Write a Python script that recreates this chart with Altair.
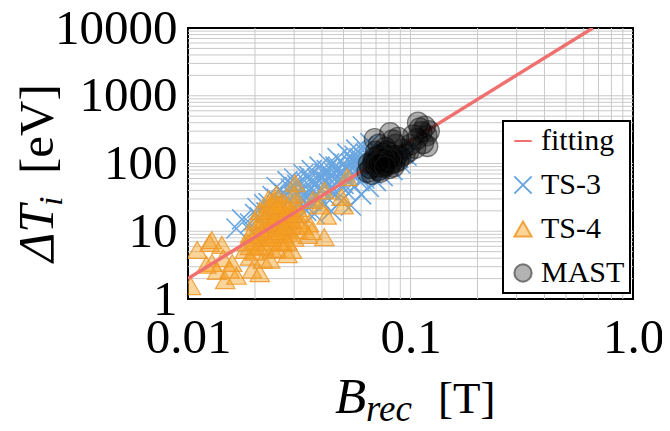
import altair as alt
import pandas as pd

SERIF = "Liberation Serif"

# ---------------- data ----------------
series_names = ["fitting", "TS-3", "TS-4", "MAST"]

fit_B = [0.01, 0.66]
fit_T = [2.0, 10000.0]

ts3_B = [0.0165, 0.0175, 0.019, 0.0195, 0.0205, 0.021, 0.022, 0.0225, 0.023, 0.024,
         0.0245, 0.025, 0.025, 0.026, 0.026, 0.027, 0.027, 0.028, 0.028, 0.029,
         0.029, 0.030, 0.030, 0.031, 0.031, 0.032, 0.032, 0.033, 0.033, 0.034,
         0.034, 0.035, 0.035, 0.036, 0.036, 0.037, 0.037, 0.038, 0.038, 0.039,
         0.040, 0.040, 0.041, 0.042, 0.042, 0.043, 0.044, 0.044, 0.045, 0.046,
         0.046, 0.047, 0.048, 0.048, 0.049, 0.050, 0.050, 0.051, 0.052, 0.053,
         0.053, 0.054, 0.055, 0.056, 0.056, 0.057, 0.058, 0.059, 0.060, 0.060,
         0.061, 0.062, 0.063, 0.064, 0.065, 0.065, 0.066, 0.067, 0.068, 0.069,
         0.070, 0.071, 0.072, 0.074, 0.075, 0.077, 0.079, 0.081, 0.083, 0.085,
         0.088, 0.090, 0.093, 0.096,
         0.020, 0.022, 0.024, 0.026, 0.028, 0.030, 0.032, 0.034, 0.036, 0.038,
         0.040, 0.042, 0.044, 0.046, 0.048, 0.050, 0.052, 0.054, 0.056, 0.058,
         0.060, 0.062, 0.064, 0.066, 0.068, 0.023, 0.027, 0.031, 0.035, 0.039,
         0.043, 0.047, 0.051, 0.055, 0.059, 0.063, 0.067, 0.071, 0.073, 0.076]
ts3_T = [11, 15, 13, 9.5, 22, 16, 12, 19, 26, 21,
         14, 30, 45, 24, 17, 36, 12, 55, 28, 20,
         42, 33, 60, 16, 48, 38, 25, 70, 30, 52,
         20, 40, 65, 28, 80, 48, 18, 35, 60, 90,
         42, 25, 70, 55, 32, 100, 45, 20, 75, 60,
         35, 120, 50, 85, 28, 65, 100, 40, 140, 75,
         55, 24, 110, 90, 45, 160, 70, 120, 35, 95,
         180, 60, 140, 80, 110, 45, 200, 70, 130, 95,
         55, 160, 85, 120, 65, 140, 95, 110, 80, 150,
         120, 100, 140, 130,
         18, 25, 33, 40, 22, 45, 30, 38, 55, 45,
         60, 80, 65, 90, 70, 50, 85, 100, 130, 100,
         75, 120, 150, 90, 110, 15, 25, 35, 28, 30,
         40, 80, 90, 70, 55, 100, 150, 120, 140, 100]

ts4_B = [0.0103, 0.011, 0.0125, 0.0128, 0.0128, 0.0142, 0.0144, 0.0135, 0.0147, 0.0154,
         0.0158, 0.0121, 0.0165, 0.018, 0.0184, 0.019, 0.0194, 0.020, 0.021, 0.0217,
         0.0226, 0.0234, 0.0246, 0.025, 0.026, 0.024, 0.0234, 0.021, 0.028, 0.0282,
         0.0268, 0.0303, 0.0303, 0.031, 0.0312, 0.0293, 0.0346, 0.035, 0.0365, 0.039,
         0.041, 0.041, 0.042, 0.049, 0.050, 0.052, 0.022, 0.024, 0.026, 0.027,
         0.023, 0.025, 0.028, 0.029, 0.030, 0.024, 0.022, 0.027, 0.026, 0.032,
         0.033, 0.020, 0.021, 0.019, 0.025, 0.028, 0.036, 0.023, 0.025, 0.027,
         0.021, 0.023, 0.024, 0.026, 0.022, 0.029, 0.031, 0.020, 0.027, 0.025,
         0.021, 0.022, 0.023, 0.024, 0.025, 0.026, 0.027, 0.028, 0.029, 0.030,
         0.022, 0.024, 0.026, 0.028, 0.023, 0.025, 0.027, 0.020, 0.019, 0.030]
ts4_T = [1.55, 5.3, 6.7, 7.4, 3.4, 6.3, 4.0, 2.6, 1.9, 2.7,
         3.4, 3.2, 2.2, 5.3, 6.9, 4.2, 2.7, 9.7, 5.9, 3.8,
         8.2, 13, 29, 19, 11.6, 5.3, 3.8, 2.4, 16, 9.4,
         6.7, 51, 26, 14.6, 10.4, 5.3, 8.8, 13, 29, 24,
         40, 8.2, 17, 32, 24, 63, 12, 16, 22, 14,
         7, 9, 11, 20, 8, 24, 18, 27, 7, 18,
         12, 14, 8, 6, 5.5, 4.6, 10, 10, 13, 19,
         20, 25, 11, 15, 9, 12, 22, 7, 9, 35,
         11, 15, 20, 13, 17, 25, 16, 22, 15, 18,
         6, 8, 10, 7, 30, 24, 12, 5, 9, 35]

mast_B = [0.066, 0.068, 0.069, 0.070, 0.071, 0.072, 0.072, 0.073, 0.074, 0.075,
          0.075, 0.076, 0.077, 0.078, 0.079, 0.080, 0.080, 0.082, 0.083, 0.085,
          0.087, 0.064, 0.065, 0.067, 0.070, 0.073, 0.078, 0.084, 0.088, 0.090,
          0.069, 0.072, 0.077, 0.081, 0.083, 0.086, 0.088, 0.092, 0.094,
          0.100, 0.103, 0.105, 0.107, 0.108, 0.110, 0.112, 0.114, 0.116, 0.118,
          0.119, 0.121, 0.098,
          0.068, 0.071, 0.074, 0.076, 0.079, 0.081, 0.072, 0.077]
mast_T = [85, 100, 120, 90, 110, 80, 130, 100, 115, 90,
          140, 105, 125, 95, 110, 130, 85, 100, 120, 105,
          130, 75, 100, 70, 150, 75, 150, 90, 110, 125,
          230, 190, 170, 280, 220, 190, 240, 160, 135,
          190, 260, 170, 230, 400, 330, 290, 200, 350, 260,
          180, 300, 150,
          110, 95, 105, 120, 100, 115, 100, 90]

x_grid = [0.02, 0.03, 0.04, 0.05, 0.06, 0.07, 0.08, 0.09, 0.1,
          0.2, 0.3, 0.4, 0.5, 0.6, 0.7, 0.8, 0.9]
y_grid = [2, 3, 4, 5, 6, 7, 8, 9, 10,
          20, 30, 40, 50, 60, 70, 80, 90, 100,
          200, 300, 400, 500, 600, 700, 800, 900, 1000,
          2000, 3000, 4000, 5000, 6000, 7000, 8000, 9000]
x_ticks = [0.01, 0.1, 1.0]
y_ticks = [1, 10, 100, 1000, 10000]

y_title_parts = ["\u0394T", "i", "[eV]"]
x_title_parts = ["B", "rec", "[T]"]

# ---------------- frames ----------------
df_fit = pd.DataFrame({"B": fit_B, "T": fit_T, "series": "fitting"})
df_ts3 = pd.DataFrame({"B": ts3_B, "T": ts3_T, "series": "TS-3"})
df_ts4 = pd.DataFrame({"B": ts4_B, "T": ts4_T, "series": "TS-4"})
df_mast = pd.DataFrame({"B": mast_B, "T": mast_T, "series": "MAST"})

xscale = alt.Scale(type="log", domain=[0.01, 1.0], nice=False)
yscale = alt.Scale(type="log", domain=[1, 10000], nice=False)

xaxis = alt.Axis(values=x_ticks, grid=False, ticks=False, domain=False, title=None,
                 labelFont=SERIF, labelFontSize=49, labelColor="black", labelPadding=14,
                 labelFlush=False, labelOverlap=False,
                 labelExpr="datum.value >= 1 ? '1.0' : (datum.value >= 0.1 ? '0.1' : '0.01')")
yaxis = alt.Axis(values=y_ticks, grid=False, ticks=False, domain=False, title=None,
                 labelFont=SERIF, labelFontSize=49, labelColor="black", labelPadding=11,
                 labelFlush=False, labelOverlap=False, format="d")

X = alt.X("B:Q", scale=xscale, axis=xaxis)
Y = alt.Y("T:Q", scale=yscale, axis=yaxis)

legend = alt.Legend(
    title=None, orient="none", legendX=315, legendY=93,
    strokeColor="black", fillColor="white", padding=5,
    labelFont=SERIF, labelFontSize=30, labelColor="black", labelOffset=3,
    symbolSize=300, symbolStrokeWidth=2, rowPadding=14, labelLimit=200,
)

stroke_scale = alt.Scale(domain=series_names,
                         range=["#f07070", "#6aa6e0", "rgba(238,150,40,0.85)", "rgba(30,30,30,0.55)"])
fill_scale = alt.Scale(domain=series_names,
                       range=["transparent", "transparent", "rgba(247,160,30,0.45)", "rgba(0,0,0,0.30)"])
shape_scale = alt.Scale(domain=series_names,
                        range=["stroke", "M-1,-1L1,1M-1,1L1,-1", "triangle-up", "circle"])

stroke_enc = alt.Stroke("series:N", scale=stroke_scale, title=None, legend=legend)
fill_enc = alt.Fill("series:N", scale=fill_scale, title=None, legend=legend)
shape_enc = alt.Shape("series:N", scale=shape_scale, title=None, legend=legend)

# grid lines
gx = alt.Chart(pd.DataFrame({"v": x_grid})).mark_rule(color="#c9c9c9", strokeWidth=1).encode(
    x=alt.X("v:Q", scale=xscale, axis=xaxis))
gy = alt.Chart(pd.DataFrame({"v": y_grid})).mark_rule(color="#c9c9c9", strokeWidth=1).encode(
    y=alt.Y("v:Q", scale=yscale, axis=yaxis))

ts3 = alt.Chart(df_ts3).mark_point(size=400, strokeWidth=1.6, opacity=1, clip=True).encode(
    x=X, y=Y, stroke=stroke_enc, fill=fill_enc, shape=shape_enc)
ts4 = alt.Chart(df_ts4).mark_point(size=380, strokeWidth=1.2, opacity=1, clip=True).encode(
    x=X, y=Y, stroke=stroke_enc, fill=fill_enc, shape=shape_enc)
fit = alt.Chart(df_fit).mark_line(strokeWidth=3.5, clip=True).encode(
    x=X, y=Y, stroke=stroke_enc)
mast = alt.Chart(df_mast).mark_point(size=440, strokeWidth=1.2, opacity=1, clip=True).encode(
    x=X, y=Y, stroke=stroke_enc, fill=fill_enc, shape=shape_enc)


def label(text, px, py, size, italic=False, angle=0):
    kw = dict(font=SERIF, fontSize=size, color="black", align="left", baseline="alphabetic")
    if italic:
        kw["fontStyle"] = "italic"
    if angle:
        kw["angle"] = angle
    return alt.Chart(pd.DataFrame({"t": [text]})).mark_text(**kw).encode(
        text="t:N", x=alt.value(px), y=alt.value(py))


titles = [
    label(y_title_parts[0], -135, 234, 50, italic=True, angle=270),
    label(y_title_parts[1], -126, 178, 34, italic=True, angle=270),
    label(y_title_parts[2], -135, 146, 49, angle=270),
    label(x_title_parts[0], 147, 385, 51, italic=True),
    label(x_title_parts[1], 178, 393, 37, italic=True),
    label(x_title_parts[2], 250, 385, 45),
]

chart = alt.layer(gx, gy, ts3, ts4, fit, mast, *titles).properties(
    width=445, height=271,
    autosize=alt.AutoSizeParams(type="none"),
    padding={"left": 180, "top": 20, "right": 29, "bottom": 124},
    background="white",
).configure(
    font=SERIF
).configure_view(
    stroke="black", strokeWidth=2
).configure_legend(
    strokeWidth=2, labelFont=SERIF,
)

chart.save("out.html", embed_options={"renderer": "svg", "actions": False})
